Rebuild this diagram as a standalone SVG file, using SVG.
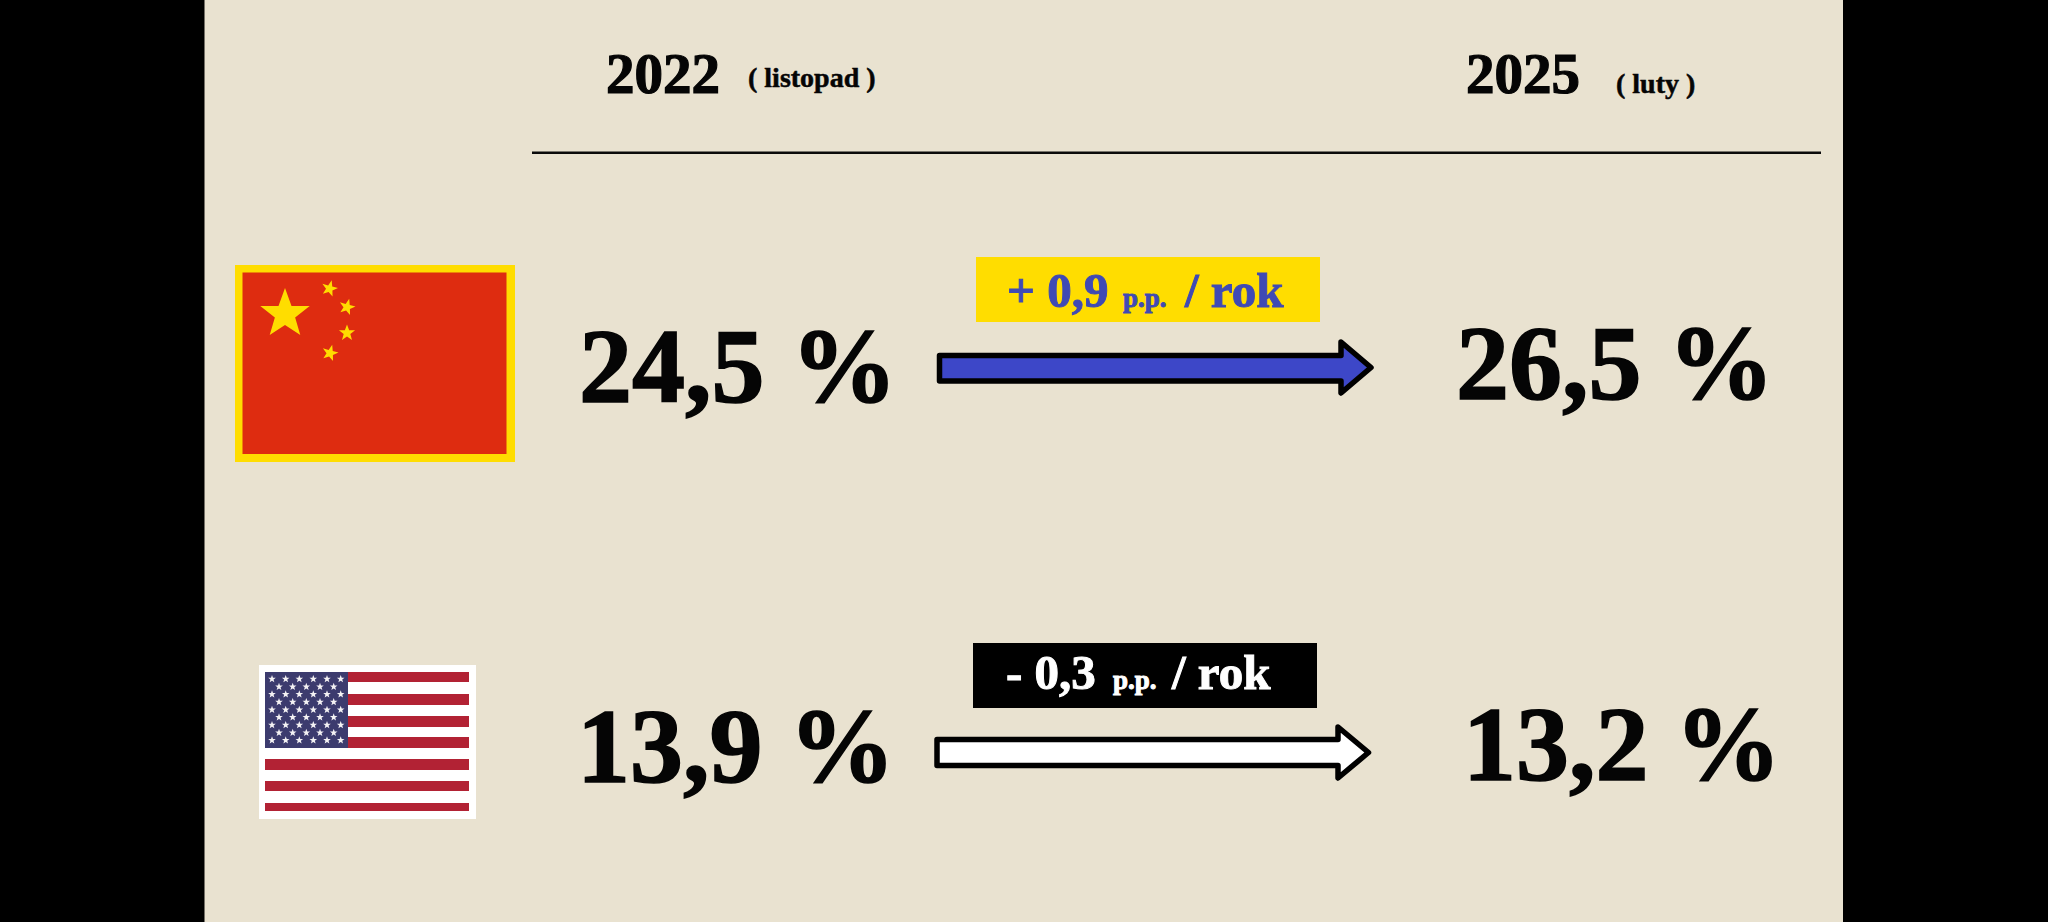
<svg xmlns="http://www.w3.org/2000/svg" xmlns:xlink="http://www.w3.org/1999/xlink" width="2048" height="922" viewBox="0 0 2048 922">
<style>
text{font-family:"Liberation Serif","Times New Roman",serif;font-weight:bold;fill:#050505;stroke:#050505;stroke-width:1}
.big{font-size:106px;stroke-width:1.6}.yr{font-size:57px;stroke-width:1.2}.sub{font-size:28px;stroke-width:.5}
.lab{font-size:49px}.pp{font-size:27px}
.blue{fill:#3f4ab4;stroke:#3f4ab4}.white{fill:#fff;stroke:#fff}
.arrow{stroke:#000;stroke-width:5.5;stroke-linejoin:round}
.gold{fill:#ffdd00}.sw{fill:#f4f2f4}.red{fill:#b22234}
</style>
<defs>
<polygon id="s" points="0,-1 0.25,-0.309 0.951,-0.309 0.39,0.13 0.588,0.809 0,0.42 -0.588,0.809 -0.39,0.13 -0.951,-0.309 -0.25,-0.309"/>
</defs>
<rect width="2048" height="922" fill="#000"/>
<rect x="204.500" y="0" width="1638.500" height="922" fill="#e9e2d0"/>
<g id="header">
<text class="yr" x="606" y="93">2022</text>
<text class="sub" x="748" y="87">( listopad )</text>
<text class="yr" x="1466" y="93">2025</text>
<text class="sub" x="1616" y="93">( luty )</text>
<rect x="532" y="151.500" width="1289" height="2.500" fill="#0a0a0a"/>
</g>
<g id="flag-china">
<rect x="235" y="265" width="280" height="197" fill="#ffdd00"/>
<rect x="242.500" y="272.500" width="264" height="181.500" fill="#de2c10"/>
<use xlink:href="#s" class="gold" transform="translate(285 314) scale(26)"/>
<use xlink:href="#s" class="gold" transform="translate(329.500 288.500) rotate(15) scale(8.500)"/>
<use xlink:href="#s" class="gold" transform="translate(347 307) rotate(15) scale(8.500)"/>
<use xlink:href="#s" class="gold" transform="translate(347 333) rotate(0) scale(8.500)"/>
<use xlink:href="#s" class="gold" transform="translate(330 353) rotate(15) scale(8.500)"/>
</g>
<g id="flag-usa">
<rect x="259" y="665" width="217" height="154" fill="#fff"/>
<rect class="red" x="265" y="672" width="204" height="10"/>
<rect class="red" x="265" y="694" width="204" height="11"/>
<rect class="red" x="265" y="716" width="204" height="11"/>
<rect class="red" x="265" y="737" width="204" height="11"/>
<rect class="red" x="265" y="759" width="204" height="11"/>
<rect class="red" x="265" y="781" width="204" height="10"/>
<rect class="red" x="265" y="803" width="204" height="8"/>
<rect x="265" y="672" width="83" height="76" fill="#3c3b6e"/>
<g class="sw">
<use xlink:href="#s" transform="translate(272 679) scale(4)"/><use xlink:href="#s" transform="translate(285.700 679) scale(4)"/><use xlink:href="#s" transform="translate(299.300 679) scale(4)"/><use xlink:href="#s" transform="translate(313.300 679) scale(4)"/><use xlink:href="#s" transform="translate(327 679) scale(4)"/><use xlink:href="#s" transform="translate(340.700 679) scale(4)"/>
<use xlink:href="#s" transform="translate(279 686.700) scale(4)"/><use xlink:href="#s" transform="translate(292.700 686.700) scale(4)"/><use xlink:href="#s" transform="translate(306.300 686.700) scale(4)"/><use xlink:href="#s" transform="translate(320 686.700) scale(4)"/><use xlink:href="#s" transform="translate(333.700 686.700) scale(4)"/>
<use xlink:href="#s" transform="translate(272 694.300) scale(4)"/><use xlink:href="#s" transform="translate(285.700 694.300) scale(4)"/><use xlink:href="#s" transform="translate(299.300 694.300) scale(4)"/><use xlink:href="#s" transform="translate(313.300 694.300) scale(4)"/><use xlink:href="#s" transform="translate(327 694.300) scale(4)"/><use xlink:href="#s" transform="translate(340.700 694.300) scale(4)"/>
<use xlink:href="#s" transform="translate(279 702) scale(4)"/><use xlink:href="#s" transform="translate(292.700 702) scale(4)"/><use xlink:href="#s" transform="translate(306.300 702) scale(4)"/><use xlink:href="#s" transform="translate(320 702) scale(4)"/><use xlink:href="#s" transform="translate(333.700 702) scale(4)"/>
<use xlink:href="#s" transform="translate(272 709.700) scale(4)"/><use xlink:href="#s" transform="translate(285.700 709.700) scale(4)"/><use xlink:href="#s" transform="translate(299.300 709.700) scale(4)"/><use xlink:href="#s" transform="translate(313.300 709.700) scale(4)"/><use xlink:href="#s" transform="translate(327 709.700) scale(4)"/><use xlink:href="#s" transform="translate(340.700 709.700) scale(4)"/>
<use xlink:href="#s" transform="translate(279 717.300) scale(4)"/><use xlink:href="#s" transform="translate(292.700 717.300) scale(4)"/><use xlink:href="#s" transform="translate(306.300 717.300) scale(4)"/><use xlink:href="#s" transform="translate(320 717.300) scale(4)"/><use xlink:href="#s" transform="translate(333.700 717.300) scale(4)"/>
<use xlink:href="#s" transform="translate(272 725) scale(4)"/><use xlink:href="#s" transform="translate(285.700 725) scale(4)"/><use xlink:href="#s" transform="translate(299.300 725) scale(4)"/><use xlink:href="#s" transform="translate(313.300 725) scale(4)"/><use xlink:href="#s" transform="translate(327 725) scale(4)"/><use xlink:href="#s" transform="translate(340.700 725) scale(4)"/>
<use xlink:href="#s" transform="translate(279 732.700) scale(4)"/><use xlink:href="#s" transform="translate(292.700 732.700) scale(4)"/><use xlink:href="#s" transform="translate(306.300 732.700) scale(4)"/><use xlink:href="#s" transform="translate(320 732.700) scale(4)"/><use xlink:href="#s" transform="translate(333.700 732.700) scale(4)"/>
<use xlink:href="#s" transform="translate(272 740.300) scale(4)"/><use xlink:href="#s" transform="translate(285.700 740.300) scale(4)"/><use xlink:href="#s" transform="translate(299.300 740.300) scale(4)"/><use xlink:href="#s" transform="translate(313.300 740.300) scale(4)"/><use xlink:href="#s" transform="translate(327 740.300) scale(4)"/><use xlink:href="#s" transform="translate(340.700 740.300) scale(4)"/>
</g>
</g>
<g id="row-china">
<text class="big" x="579" y="401.500">24,5 %</text>
<text class="big" x="1456" y="398.500">26,5 %</text>
</g>
<g id="row-usa">
<text class="big" x="577" y="781.500">13,9 %</text>
<text class="big" x="1463" y="780">13,2 %</text>
</g>
<g id="label-china">
<rect x="976" y="257" width="344" height="65" fill="#ffdd00"/>
<text class="blue" y="307"><tspan class="lab" x="1007">+ 0,9</tspan><tspan class="pp" x="1123">p.p.</tspan><tspan class="lab" x="1185">/ rok</tspan></text>
</g>
<g id="label-usa">
<rect x="973" y="643" width="344" height="65" fill="#000"/>
<text class="white" y="689"><tspan class="lab" x="1006">- 0,3</tspan><tspan class="pp" x="1113">p.p.</tspan><tspan class="lab" x="1172">/ rok</tspan></text>
</g>
<g id="connectors">
<polygon class="arrow" fill="#3d47c8" points="939.500,355.500 1341,355.500 1341,342 1371,367.500 1341,393 1341,381 939.500,381"/>
<polygon class="arrow" fill="#fff" points="937,739.500 1338,739.500 1338,727 1368.500,752.500 1338,778 1338,765.500 937,765.500"/>
</g>
</svg>
